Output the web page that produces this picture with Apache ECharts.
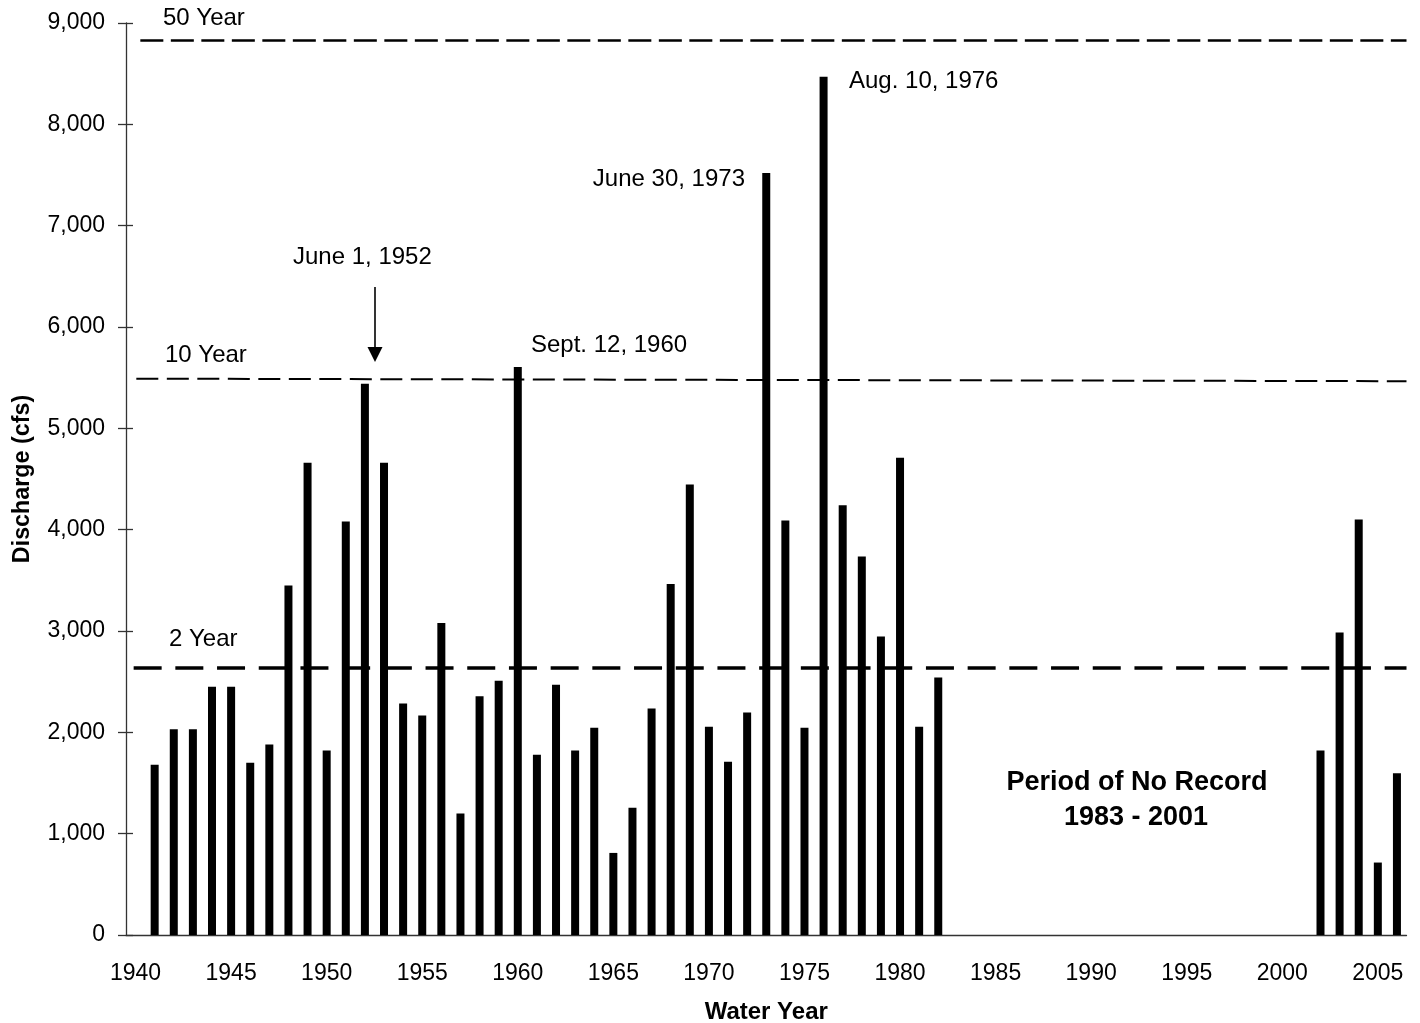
<!DOCTYPE html>
<html>
<head>
<meta charset="utf-8">
<script src="https://cdn.jsdelivr.net/npm/echarts@6/dist/echarts.min.js"></script>
<style>
html,body{margin:0;padding:0;background:#fff;}
#c{width:1420px;height:1023px;}
</style>
</head>
<body>
<div id="c"></div>
<script>
// ---- data ----
const years = ['1940','1941','1942','1943','1944','1945','1946','1947','1948','1949',
  '1950','1951','1952','1953','1954','1955','1956','1957','1958','1959',
  '1960','1961','1962','1963','1964','1965','1966','1967','1968','1969',
  '1970','1971','1972','1973','1974','1975','1976','1977','1978','1979',
  '1980','1981','1982','1983','1984','1985','1986','1987','1988','1989',
  '1990','1991','1992','1993','1994','1995','1996','1997','1998','1999',
  '2000','2001','2002','2003','2004','2005','2006'];
const discharge = [null,1680,2030,2030,2450,2450,1700,1880,3450,4660,
  1820,4080,5440,4660,2285,2165,3080,1200,2355,2510,
  5605,1780,2470,1820,2045,810,1255,2235,3465,4445,
  2055,1710,2195,7520,4090,2045,8470,4240,3735,2945,
  4710,2055,2540,null,null,null,null,null,null,null,
  null,null,null,null,null,null,null,null,null,null,
  null,null,1820,2985,4100,715,1595];
const refNames = ['50 Year','10 Year','2 Year'];
const refStartLevel = [8825,5490,2640];
const refEndLevel = [8825,5465,2640];
const refStartYear = [1940.75,1940.54,1940.4];
const refEndYear = [2007,2007,2007];
const peakLabels = ['June 1, 1952','Sept. 12, 1960','June 30, 1973','Aug. 10, 1976'];

const FF = '"Liberation Sans", Arial, Helvetica, sans-serif';
const chart = echarts.init(document.getElementById('c'));

const refStyles = [
  {type:[23,7.5], width:2.5, color:'#000'},
  {type:[22,8.5], width:2, color:'#000'},
  {type:[28,13.7], width:3.5, color:'#000'}
];
const markData = refNames.map((n,i)=>[
  {coord:[refStartYear[i], refStartLevel[i]], lineStyle:refStyles[i]},
  {coord:[refEndYear[i], refEndLevel[i]]}
]);

const option = {
  animation:false,
  backgroundColor:'#fff',
  grid:{left:126,right:13.5,top:23,bottom:88,containLabel:false,outerBoundsMode:'none'},
  xAxis:[
    {type:'category', data:years, boundaryGap:true, position:'bottom',
     axisLine:{onZero:false, lineStyle:{color:'#333', width:1.3}},
     axisTick:{interval:4, length:7, lineStyle:{color:'#333', width:1.3}},
     axisLabel:{interval:4, fontSize:23, color:'#000', margin:27, fontFamily:FF},
     splitLine:{show:false},
     name:'Water Year', nameLocation:'middle', nameGap:65,
     nameTextStyle:{fontWeight:'bold', fontSize:24, color:'#000', fontFamily:FF}},
    {type:'category', data:years, boundaryGap:true, position:'bottom',
     axisLine:{show:false, onZero:false},
     axisTick:{inside:true, interval:4, length:6, lineStyle:{color:'#333', width:1.3}},
     axisLabel:{show:false}, splitLine:{show:false}},
    {type:'value', min:1940, max:2007, show:false, splitLine:{show:false}}
  ],
  yAxis:[
    {type:'value', min:0, max:9000, interval:1000, position:'left',
     axisLine:{show:true, onZero:false, lineStyle:{color:'#333', width:1.3}},
     axisTick:{show:true, length:8, lineStyle:{color:'#333', width:1.3}},
     axisLabel:{fontSize:23, color:'#000', margin:21, fontFamily:FF,
       formatter:v=>v.toLocaleString('en-US')},
     splitLine:{show:false},
     name:'Discharge (cfs)', nameLocation:'middle', nameGap:92, nameRotate:90,
     nameTextStyle:{fontWeight:'bold', fontSize:23.3, color:'#000', fontFamily:FF}},
    {type:'value', min:0, max:9000, interval:1000, position:'left',
     axisLine:{show:false, onZero:false},
     axisTick:{show:true, inside:true, length:7, lineStyle:{color:'#333', width:1.3}},
     axisLabel:{show:false}, splitLine:{show:false}}
  ],
  series:[
    {type:'bar', xAxisIndex:0, yAxisIndex:0, data:discharge, barWidth:8,
     itemStyle:{color:'#000'}, silent:true},
    {type:'line', xAxisIndex:2, yAxisIndex:0, data:[], silent:true,
     markLine:{silent:true, symbol:['none','none'], label:{show:false},
       animation:false, data:markData}}
  ]
};
chart.setOption(option);

function txt(text, x, y, size, bold, align){
  return {type:'text', x:x, y:y, silent:true, z:100,
    style:{text:text, fontSize:size, fontFamily:FF, fontWeight:bold?'bold':'normal',
      fill:'#000', align:align||'left', verticalAlign:'middle'}};
}
chart.setOption({graphic:[
  txt(refNames[0], 163, 18.5, 24, false),
  txt(refNames[1], 165, 355, 24, false),
  txt(refNames[2], 169, 639, 24, false),
  txt(peakLabels[0], 293, 257, 24, false),
  txt(peakLabels[1], 531, 345, 24, false),
  txt(peakLabels[2], 745, 179, 24, false, 'right'),
  txt(peakLabels[3], 849, 81.5, 24, false),
  txt('Period of No Record', 1137, 783, 27, true, 'center'),
  txt('1983 - 2001', 1136, 818, 27, true, 'center'),
  {type:'line', silent:true, z:100, shape:{x1:375,y1:287,x2:375,y2:350}, style:{stroke:'#000', lineWidth:1.6}},
  {type:'polygon', silent:true, z:100, shape:{points:[[367.5,347],[382.5,347],[375,362]]}, style:{fill:'#000'}}
]});
</script>
</body>
</html>
